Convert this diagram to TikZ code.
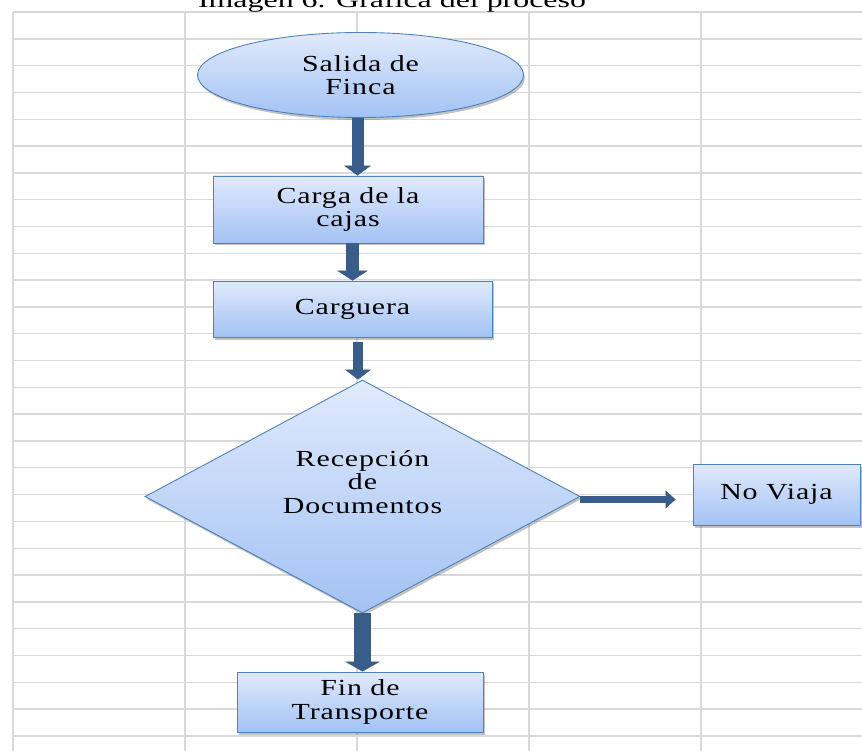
\documentclass[tikz,border=0pt]{standalone}
\usepackage{fontspec}
\setmainfont{Liberation Serif}
\newfontfamily\shapefont{Liberation Serif}[FakeStretch=1.3,LetterSpace=4]
\newfontfamily\titlefont{Liberation Serif}[FakeStretch=1.45]
\usetikzlibrary{arrows.meta,shapes.geometric,shadows}
\definecolor{boxline}{RGB}{79,129,189}
\definecolor{boxtop}{RGB}{224,234,252}
\definecolor{boxbottom}{RGB}{163,194,244}
\definecolor{arrowblue}{RGB}{56,93,138}
\definecolor{gridgray}{RGB}{217,217,217}
\tikzset{
  gridline/.style={draw=gridgray,line width=1.4pt},
  flowshape/.style={draw=boxline,line width=0.9pt,top color=boxtop,bottom color=boxbottom,
    drop shadow={shadow xshift=1.5pt,shadow yshift=-2.5pt,opacity=0.4,fill=black!60},
    inner sep=0pt,align=center,font=\shapefont\fontsize{23pt}{23.5pt}\selectfont},
  processbox/.style={flowshape,rectangle},
  startoval/.style={flowshape,ellipse},
  decisionbox/.style={flowshape,diamond,aspect=1.87},
  flowarrow/.style n args={2}{draw=arrowblue,line width=#1,
    -{Triangle[width=#2,length=10pt,line width=0.5pt]}},
  titlelabel/.style={font=\titlefont\fontsize{22pt}{24pt}\selectfont,anchor=base}
}
\begin{document}
\begin{tikzpicture}[x=1pt,y=-1pt]
  \useasboundingbox (0,0) rectangle (862,751);
  \foreach \gx in {13,185,357,529,701}
    \draw[gridline] (\gx,12) -- (\gx,751);
  \foreach \k in {0,...,27}
    \draw[gridline] (13,{12+26.81*\k}) -- (862,{12+26.81*\k});
  \node[titlelabel] (titulo) at (392,8) {Imagen 6. Gráfica del proceso};
  \node[startoval,minimum width=326pt,minimum height=85pt] (salida) at (360.5,75)
    {Salida de\\Finca};
  \node[processbox,minimum width=270pt,minimum height=67pt] (carga) at (348,209.5)
    {Carga de la\\cajas};
  \node[processbox,minimum width=279pt,minimum height=56pt] (carguera) at (352.5,309)
    {Carguera};
  \node[decisionbox,minimum width=435pt,minimum height=233pt] (recepcion) at (362.5,496.5)
    {Recepción\\de\\Documentos\\[6pt]~};
  \node[processbox,minimum width=167pt,minimum height=61pt] (noviaja) at (776.5,494.5)
    {No Viaja};
  \node[processbox,minimum width=246pt,minimum height=60pt] (fin) at (360,702)
    {Fin de\\Transporte};
  \draw[flowarrow={12pt}{27pt}] ([xshift=-3pt]salida.south) -- ([xshift=-3pt]salida.south |- carga.north);
  \draw[flowarrow={13pt}{31pt}] (carguera.north |- carga.south) -- (carguera.north);
  \draw[flowarrow={10pt}{26pt}] ([xshift=5.5pt,yshift=-5pt]carguera.south) -- ([xshift=5.5pt]carguera.south |- recepcion.north);
  \draw[flowarrow={17pt}{35pt}] (recepcion.south) -- (recepcion.south |- fin.north);
  \draw[flowarrow={7pt}{18pt}] ([yshift=-3pt]recepcion.east) -- ([xshift=-17pt,yshift=-3pt]recepcion.east -| noviaja.west);
\end{tikzpicture}
\end{document}
